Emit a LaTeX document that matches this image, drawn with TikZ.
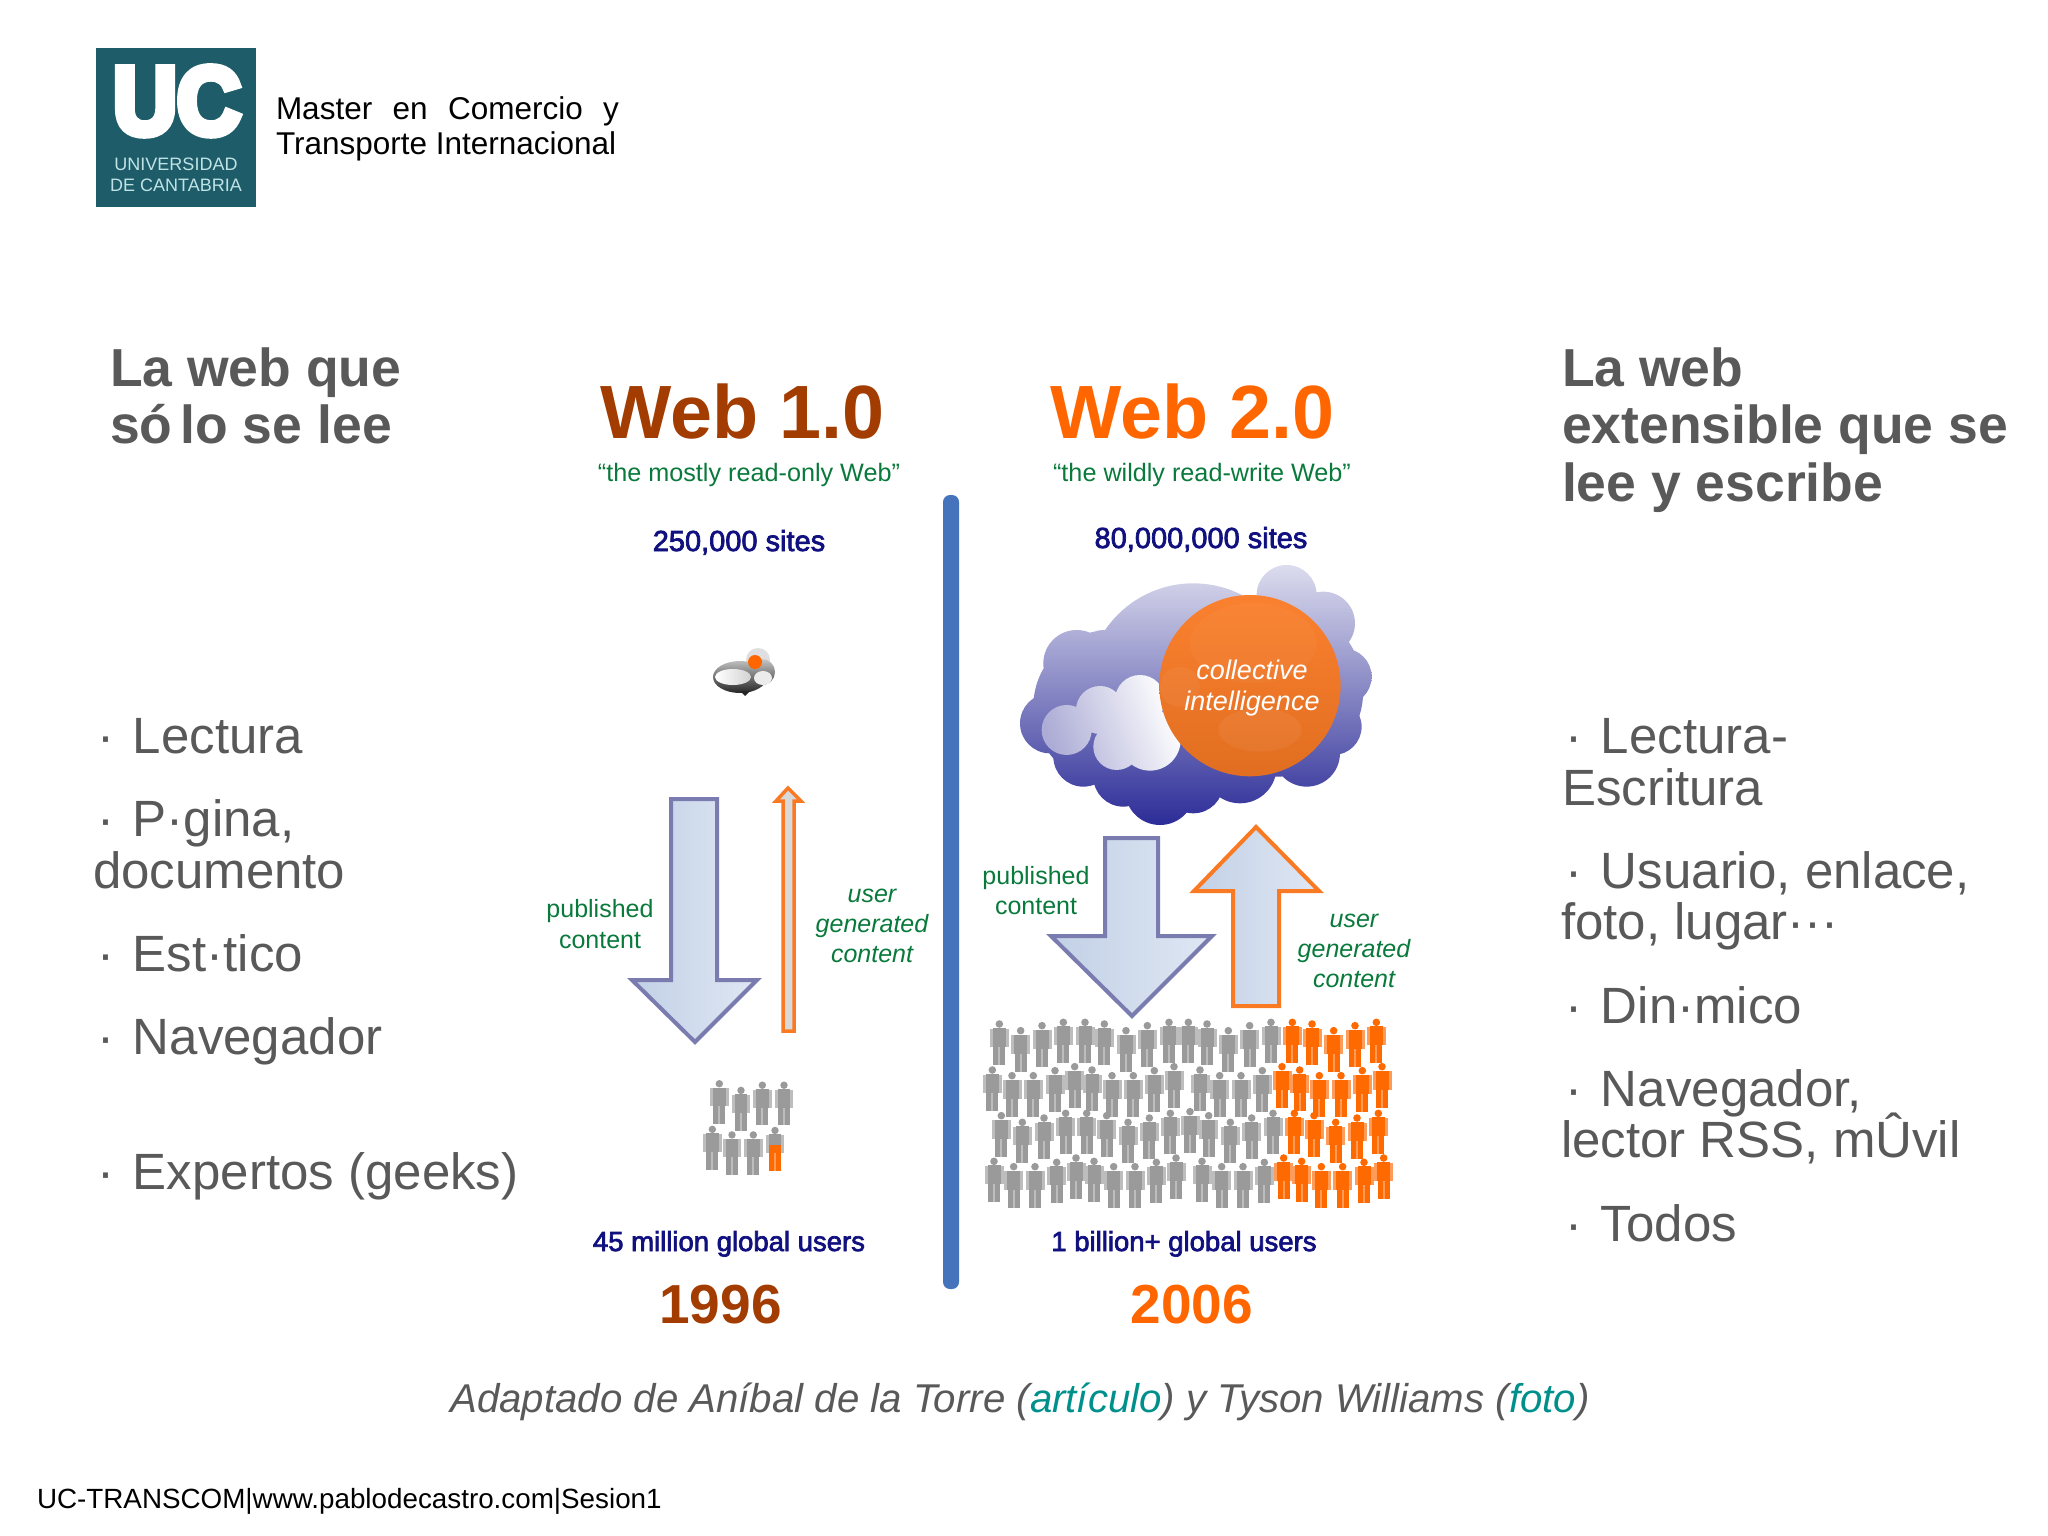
\documentclass[tikz,border=0pt]{standalone}
\usepackage{fontspec}
\setmainfont{Liberation Sans}
\newfontfamily\logofont[BoldFeatures={FakeBold=8}]{Liberation Sans}
\newfontfamily\semifont[FakeBold=2.5]{Liberation Sans}
\definecolor{txtgray}{HTML}{595959}
\definecolor{logoteal}{HTML}{1D5C68}
\definecolor{logotext}{HTML}{BFE3E6}
\definecolor{oldbrown}{HTML}{A23C00}
\definecolor{neworange}{HTML}{FF6600}
\definecolor{capgreen}{HTML}{0A7A3C}
\definecolor{navytxt}{HTML}{10107F}
\definecolor{barblue}{HTML}{4674BC}
\definecolor{linkteal}{HTML}{00908C}
\definecolor{arrowpurple}{HTML}{7A7CB0}
\definecolor{arroworange}{HTML}{FA7A24}
\definecolor{fillA}{HTML}{C2D0E6}
\definecolor{fillB}{HTML}{DFE7F3}
\definecolor{pgray}{HTML}{9A9A9A}
\definecolor{pgrayl}{HTML}{BDBDBD}
\definecolor{porange}{HTML}{FF6A00}
\definecolor{porangel}{HTML}{FF9C5A}
\definecolor{cloudtop}{HTML}{DCDCEE}
\definecolor{cloudmid}{HTML}{8E8EC8}
\definecolor{cloudlow}{HTML}{2C2C98}
\definecolor{cloudin}{HTML}{ACACD6}
\newcommand{\fs}[1]{\fontsize{#1}{#1}\selectfont}
\newcommand{\bul}{\makebox[39pt][l]{\hspace{3pt}·}}
% x, y (top centre), scale, upper colour, upper light, lower colour, lower light
\newcommand{\figperson}[7]{%
  \begin{scope}[shift={(#1,#2)},scale=#3]
    \fill[#5] (-9.5,8.5) rectangle (-6,27);
    \fill[#5] (6,8.5) rectangle (9.5,27);
    \fill[#4] (0,4) circle (3.8);
    \fill[#4] (-6.5,8) rectangle (6.5,19);
    \fill[#6] (-6.5,19) rectangle (6.5,27);
    \fill[#7] (-1,27) rectangle (1,45);
    \fill[#6] (-6,27) rectangle (-1,45);
    \fill[#6] (1,27) rectangle (6,45);
  \end{scope}}
\tikzset{
  every node/.style={inner sep=0pt,outer sep=0pt},
  heading/.style={anchor=base west,text=txtgray,font=\fs{53.5}\bfseries},
  bulletline/.style={anchor=base west,text=txtgray,font=\fs{51}},
  title/.style={anchor=base,font=\fs{75.5}\bfseries},
  tagline/.style={anchor=base,text=capgreen,font=\fs{25.2}},
  sitecount/.style={anchor=base,text=navytxt,font=\fs{29}\semifont},
  usercount/.style={anchor=base,text=navytxt,font=\fs{27.5}\semifont},
  yearlabel/.style={anchor=base,font=\fs{55}\bfseries},
  pubcap/.style={anchor=base,text=capgreen,font=\fs{25}},
  usercap/.style={anchor=base,text=capgreen,font=\fs{25}\itshape},
  downarrow/.style={draw=arrowpurple,line width=4pt,miter limit=10,left color=fillA,right color=fillB},
  uparrow/.style={draw=arroworange,line width=4pt,miter limit=10,left color=fillA,right color=fillB},
}
\begin{document}
\begin{tikzpicture}[x=1pt,y=-1pt]
\useasboundingbox (0,0) rectangle (2048,1536);
\fill[white] (0,0) rectangle (2048,1536);

% logo
\fill[logoteal] (96,48) rectangle (256,207);
\node (logouc) [anchor=base,text=white,xscale=.92,font=\fs{96}\logofont\bfseries] at (177,134) {UC};
\node (logo1) [anchor=base,text=logotext,font=\fs{18}] at (176,171) {UNIVERSIDAD};
\node (logo2) [anchor=base,text=logotext,font=\fs{18}] at (176,191) {DE CANTABRIA};
\node (master1) [anchor=base west,font=\fs{31.5}] at (276,120) {\makebox[343pt][s]{Master en Comercio y}};
\node (master2) [anchor=base west,font=\fs{31.5}] at (276,154) {Transporte Internacional};

% left column
\node (lh1) [heading] at (110,386) {La web que};
\node (lh2) [heading] at (110,443) {só\hspace{8pt}lo\hspace{15pt}se\hspace{15pt}lee};
\node (lb1) [bulletline] at (94,753) {\bul Lectura};
\node (lb2) [bulletline] at (94,836) {\bul P·gina,};
\node (lb3) [bulletline] at (93,888) {documento};
\node (lb4) [bulletline] at (94,971) {\bul Est·tico};
\node (lb5) [bulletline] at (94,1054) {\bul Navegador};
\node (lb6) [bulletline] at (94,1189) {\bul Expertos (geeks)};

% right column
\node (rh1) [heading] at (1562,386) {La web};
\node (rh2) [heading] at (1562,443) {extensible que se};
\node (rh3) [heading] at (1562,501) {lee y escribe};
\node (rb1) [bulletline] at (1562,753) {\bul Lectura-};
\node (rb2) [bulletline] at (1562,805) {Escritura};
\node (rb3) [bulletline] at (1562,888) {\bul Usuario, enlace,};
\node (rb4) [bulletline] at (1561,939) {foto, lugar···};
\node (rb5) [bulletline] at (1562,1023) {\bul Din·mico};
\node (rb6) [bulletline] at (1562,1106) {\bul Navegador,};
\node (rb7) [bulletline] at (1561,1157) {lector RSS, mÛvil};
\node (rb8) [bulletline] at (1562,1241) {\bul Todos};

% centre bar
\fill[barblue,rounded corners=7] (943,495) rectangle (959,1289);

% titles
\node (t1) [title,text=oldbrown] at (742.5,438) {Web 1.0};
\node (t2) [title,text=neworange] at (1192.5,438) {Web 2.0};
\node (s1) [tagline] at (749,481) {“the mostly read-only Web”};
\node (s2) [tagline] at (1202,481) {“the wildly read-write Web”};
\node (c1) [sitecount] at (739,551) {250,000 sites};
\node (c2) [sitecount] at (1201,548) {80,000,000 sites};

% small cloud
\fill[gray!25] (758,660) circle (12);
\shade[top color=gray!45,bottom color=black!85]
  (740,677) ellipse (27 and 16) (762,672) circle (13);
\fill[black!85] (740,691) -- (750,691) -- (745,696) -- cycle;
\shade[left color=white,right color=gray!35] (733,677) ellipse (18 and 8);
\fill[white!85!gray] (763,678) ellipse (9 and 7);
\fill[neworange] (755,662) circle (7);

% big cloud
\begin{scope}[shift={(960,540)},x=0.3333pt,y=-0.3333pt]
  \shade[top color=cloudtop,middle color=cloudmid,bottom color=cloudlow]
    (270,550) circle (90) (300,470) circle (70) (350,370) circle (100) (430,345) circle (75)
    (570,290) circle (95) (720,220) circle (85) (980,165) circle (90) (1090,250) circle (95)
    (1150,410) circle (85) (1120,560) circle (85) (1040,640) circle (100) (840,680) circle (110)
    (700,730) circle (90) (600,750) circle (105) (490,710) circle (90) (370,650) circle (90)
    (700,450) circle (320) (450,500) circle (230) (950,450) circle (260);
  \shade[left color=white,right color=cloudin,shading angle=-70]
    (320,570) circle (75) (420,510) circle (72) (540,480) circle (75)
    (570,600) circle (92) (470,620) circle (70) (500,550) circle (80);
  \shade[top color=arroworange!95!white,bottom color=arroworange!90!black]
    (870,437) circle (272);
  \fill[white,opacity=.035] (880,310) ellipse (190 and 120);
  \fill[white,opacity=.05] (660,440) circle (60);
  \fill[white,opacity=.05] (900,570) ellipse (125 and 65);
\end{scope}
\node (ci1) [anchor=base,text=white,font=\fs{27}\itshape] at (1252,679) {collective};
\node (ci2) [anchor=base,text=white,font=\fs{27}\itshape] at (1252,710) {intelligence};

% arrows
\shadedraw[downarrow] (671,799) -- (717,799) -- (717,980) -- (757,980) -- (695,1042) -- (632,980) -- (671,980) -- cycle;
\shadedraw[uparrow,line width=3.5pt,left color=gray!30,right color=gray!30] (783,1031) -- (783,801) -- (776,801) -- (788,788) -- (801,801) -- (794,801) -- (794,1031) -- cycle;
\shadedraw[downarrow] (1105,838) -- (1158,838) -- (1158,936) -- (1212,936) -- (1132,1016) -- (1051,936) -- (1105,936) -- cycle;
\shadedraw[uparrow] (1233,1006) -- (1233,891) -- (1194,891) -- (1256,827) -- (1319,891) -- (1279,891) -- (1279,1006) -- cycle;

% captions
\node (p1) [pubcap] at (600,917) {published};
\node (p2) [pubcap] at (600,948) {content};
\node (u1) [usercap] at (872,902) {user};
\node (u2) [usercap] at (872,932) {generated};
\node (u3) [usercap] at (872,962) {content};
\node (p3) [pubcap] at (1036,884) {published};
\node (p4) [pubcap] at (1036,914) {content};
\node (u4) [usercap] at (1354,927) {user};
\node (u5) [usercap] at (1354,957) {generated};
\node (u6) [usercap] at (1354,987) {content};

% people 1996
\begin{scope}[shift={(520,760)}]
  \foreach \a/\b in {598/862,663/880,727/866,792/866,577/985,636/1000,700/1000}
    {\figperson{\a/3}{\b*.371}{.98}{pgray}{pgrayl}{pgray}{pgrayl}}
  \figperson{765/3}{988*.371}{.98}{pgray}{pgrayl}{porange}{porangel}
\end{scope}

% people 2006
\begin{scope}[shift={(960,1000)}]
  \foreach \a/\b in {118/60,182/80,246/65,310/55,375/55,433/60,498/80,562/65,627/55,685/55,741/60,805/80,869/65,933/55,
    97/198,156/215,220/215,285/200,344/188,396/198,456/215,520/215,583/200,642/188,720/198,779/215,843/215,907/200,
    124/335,187/355,252/342,317/328,380/328,440/335,504/355,568/342,631/328,690/323,746/335,811/355,875/342,939/328,
    102/472,161/488,225/488,290/475,348/462,402/472,461/488,525/488,589/475,648/462,726/472,785/488,849/488,913/475}
    {\figperson{\a/3}{\b/3}{1}{pgray}{pgrayl}{pgray}{pgrayl}}
  \foreach \a/\b in {997/55,1056/60,1121/80,1185/65,1249/55,
    966/188,1019/198,1078/215,1143/215,1207/200,1266/188,
    1003/328,1062/335,1127/355,1191/342,1255/328,
    971/462,1025/472,1084/488,1148/488,1212/475,1271/462}
    {\figperson{\a/3}{\b/3}{1}{porange}{porangel}{porange}{porangel}}
\end{scope}

% bottom labels
\node (g1) [usercount] at (729,1251) {45 million global users};
\node (g2) [usercount] at (1184,1251) {1 billion+ global users};
\node (y1) [yearlabel,text=oldbrown] at (720.5,1323) {1996};
\node (y2) [yearlabel,text=neworange] at (1192,1323) {2006};

% credits
\node (credit) [anchor=base,text=txtgray,font=\fs{40.2}\itshape] at (1020,1412)
  {Adaptado de Aníbal de la Torre (\textcolor{linkteal}{artículo}) y Tyson Williams (\textcolor{linkteal}{foto})};
\node (footer) [anchor=base west,font=\fs{27.8}] at (37,1508) {UC-TRANSCOM|www.pablodecastro.com|Sesion1};
\end{tikzpicture}
\end{document}
